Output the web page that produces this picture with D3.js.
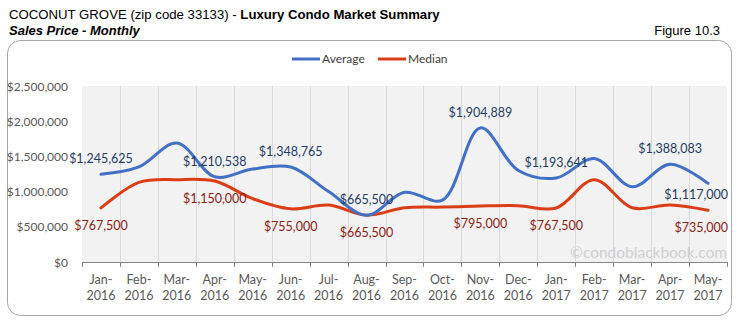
<!DOCTYPE html>
<html>
<head>
<meta charset="utf-8">
<script src="https://cdn.jsdelivr.net/npm/d3@7"></script>
<style>
  body { margin: 0; background: #fff; }
  svg { display: block; }
</style>
</head>
<body>
<div id="chart"></div>
<script>
// Monthly sales price, Coconut Grove luxury condos
const months = ["Jan-2016", "Feb-2016", "Mar-2016", "Apr-2016", "May-2016", "Jun-2016",
    "Jul-2016", "Aug-2016", "Sep-2016", "Oct-2016", "Nov-2016", "Dec-2016",
    "Jan-2017", "Feb-2017", "Mar-2017", "Apr-2017", "May-2017"];
const average = [1245625, 1350000, 1690000, 1210538, 1320000, 1348765, 1000000, 665500,
    990000, 880000, 1904889, 1300000, 1193641, 1470000, 1070000, 1388083, 1117000];
const median = [767500, 1130000, 1170000, 1150000, 900000, 755000, 810000, 665500,
    770000, 780000, 795000, 800000, 767500, 1170000, 770000, 810000, 735000];
// months that carry a value label
const averageLabelled = [0, 3, 5, 7, 10, 12, 15, 16];
const medianLabelled = [0, 3, 5, 7, 10, 12, 16];
const yTicks = [0, 500000, 1000000, 1500000, 2000000, 2500000];

const width = 741, height = 324;
const plot = { left: 82, right: 727, top: 86, bottom: 262 };
const blue = "#4270c6", red = "#db3e17";
const labelFont = "Lato, 'Open Sans', sans-serif";

const svg = d3.select("#chart").append("svg")
    .attr("width", width)
    .attr("height", height);

// Heading
const title = svg.append("text")
    .attr("x", 9)
    .attr("y", 19)
    .attr("font-family", "'Liberation Sans', Arial, sans-serif")
    .attr("font-size", "13.2px")
    .attr("fill", "#000");
title.append("tspan").text("COCONUT GROVE (zip code 33133) - ");
title.append("tspan").attr("font-weight", "bold").text("Luxury Condo Market Summary");

svg.append("text")
    .attr("x", 9)
    .attr("y", 35)
    .attr("font-family", "'Liberation Sans', Arial, sans-serif")
    .attr("font-size", "13px")
    .attr("font-weight", "bold")
    .attr("font-style", "italic")
    .text("Sales Price - Monthly");

svg.append("text")
    .attr("x", 720)
    .attr("y", 35)
    .attr("text-anchor", "end")
    .attr("font-family", "'Liberation Sans', Arial, sans-serif")
    .attr("font-size", "13px")
    .text("Figure 10.3");

// Rounded frame around the chart
svg.append("rect")
    .attr("x", 7.5)
    .attr("y", 40.5)
    .attr("width", 724)
    .attr("height", 275)
    .attr("rx", 13)
    .attr("fill", "none")
    .attr("stroke", "#a6a6a6")
    .attr("stroke-width", 1);

// Scales
const x = d3.scaleBand()
    .domain(months)
    .range([plot.left, plot.right]);

const y = d3.scaleLinear()
    .domain([0, 2500000])
    .range([plot.bottom, plot.top]);

const cx = i => x(months[i]) + x.bandwidth() / 2;

// Plot area
svg.append("rect")
    .attr("x", plot.left)
    .attr("y", plot.top)
    .attr("width", plot.right - plot.left)
    .attr("height", plot.bottom - plot.top)
    .attr("fill", "#f2f2f2");

// Vertical gridlines between months
svg.append("g")
    .selectAll("line")
    .data(months.slice(1))
    .join("line")
    .attr("x1", d => Math.round(x(d)) + 0.5)
    .attr("x2", d => Math.round(x(d)) + 0.5)
    .attr("y1", plot.top)
    .attr("y2", plot.bottom)
    .attr("stroke", "#d9d9d9");

// X axis with ticks at month boundaries
const xAxis = svg.append("g");
xAxis.append("line")
    .attr("x1", plot.left)
    .attr("x2", plot.right)
    .attr("y1", plot.bottom + 0.5)
    .attr("y2", plot.bottom + 0.5)
    .attr("stroke", "#868686");
xAxis.selectAll("line.tick")
    .data(months.concat(["end"]))
    .join("line")
    .attr("class", "tick")
    .attr("x1", (d, i) => Math.round(i < months.length ? x(d) : plot.right) + 0.5)
    .attr("x2", (d, i) => Math.round(i < months.length ? x(d) : plot.right) + 0.5)
    .attr("y1", plot.bottom)
    .attr("y2", plot.bottom + 5)
    .attr("stroke", "#868686");

const xLabels = xAxis.selectAll("text")
    .data(months)
    .join("text")
    .attr("x", d => x(d) + x.bandwidth() / 2)
    .attr("y", 284)
    .attr("text-anchor", "middle")
    .attr("font-family", labelFont)
    .attr("font-size", "12.5px")
    .attr("fill", "#595959");
xLabels.append("tspan")
    .text(d => d.split("-")[0] + "-");
xLabels.append("tspan")
    .attr("x", d => x(d) + x.bandwidth() / 2)
    .attr("dy", 16)
    .text(d => d.split("-")[1]);

// Y axis labels
svg.append("g")
    .selectAll("text")
    .data(yTicks)
    .join("text")
    .attr("x", 68)
    .attr("y", d => y(d) + 4.5)
    .attr("text-anchor", "end")
    .attr("font-family", labelFont)
    .attr("font-size", "12px")
    .attr("fill", "#595959")
    .text(d => "$" + d3.format(",")(d));

// Watermark
svg.append("text")
    .attr("x", 727)
    .attr("y", 258)
    .attr("text-anchor", "end")
    .attr("font-family", labelFont)
    .attr("font-size", "15.5px")
    .attr("fill", "#cfcfcf")
    .text("\u00a9condoblackbook.com");

// Smoothed lines
const line = d3.line()
    .x((d, i) => cx(i))
    .y(d => y(d))
    .curve(d3.curveCatmullRom.alpha(0.5));

svg.append("path")
    .datum(median)
    .attr("d", line)
    .attr("fill", "none")
    .attr("stroke", red)
    .attr("stroke-width", 3)
    .attr("stroke-linecap", "round");

svg.append("path")
    .datum(average)
    .attr("d", line)
    .attr("fill", "none")
    .attr("stroke", blue)
    .attr("stroke-width", 3)
    .attr("stroke-linecap", "round");

// Value labels; the last month's labels are pulled inside the plot edge
const fmt = d => "$" + d3.format(",")(d);
const last = months.length - 1;

svg.append("g")
    .selectAll("text")
    .data(averageLabelled)
    .join("text")
    .attr("x", i => i === last ? plot.right + 1 : cx(i))
    .attr("y", i => i === last ? y(average[i]) + 16 : y(average[i]) - 11)
    .attr("text-anchor", i => i === last ? "end" : "middle")
    .attr("font-family", labelFont)
    .attr("font-size", "12.5px")
    .attr("fill", "#1f3b63")
    .text(i => fmt(average[i]));

svg.append("g")
    .selectAll("text")
    .data(medianLabelled)
    .join("text")
    .attr("x", i => i === last ? plot.right + 1 : cx(i))
    .attr("y", i => y(median[i]) + 22)
    .attr("text-anchor", i => i === last ? "end" : "middle")
    .attr("font-family", labelFont)
    .attr("font-size", "12.5px")
    .attr("fill", "#8c1c13")
    .text(i => fmt(median[i]));

// Legend
const legend = svg.append("g");
[["Average", blue, 292], ["Median", red, 378]].forEach(([name, color, lx]) => {
    legend.append("line")
        .attr("x1", lx)
        .attr("x2", lx + 28)
        .attr("y1", 59)
        .attr("y2", 59)
        .attr("stroke", color)
        .attr("stroke-width", 3);
    legend.append("text")
        .attr("x", lx + 30)
        .attr("y", 63)
        .attr("font-family", labelFont)
        .attr("font-size", "12px")
        .attr("fill", "#404040")
        .text(name);
});
</script>
</body>
</html>
